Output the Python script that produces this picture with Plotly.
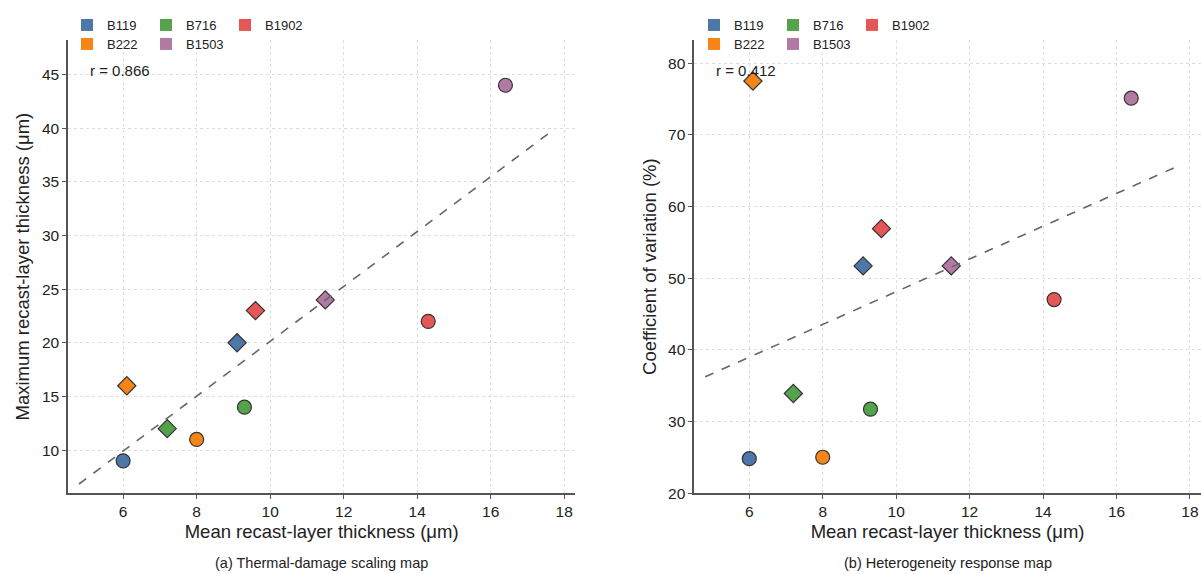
import numpy as np
import plotly.graph_objects as go

# ---------------- data ----------------
groups = ["B119", "B222", "B716", "B1902", "B1503"]
colors = ["#4C78A8", "#F58518", "#54A24B", "#E45756", "#B279A2"]

# circle series (first condition) and diamond series (second condition)
mean_circle = [6.0, 8.0, 9.3, 14.3, 16.4]
max_circle = [9, 11, 14, 22, 44]
cv_circle = [24.8, 25.0, 31.7, 47.0, 75.1]

mean_diamond = [9.1, 6.1, 7.2, 9.6, 11.5]
max_diamond = [20, 16, 12, 23, 24]
cv_diamond = [51.7, 77.5, 33.9, 56.9, 51.7]

x_ticks = [6, 8, 10, 12, 14, 16, 18]
y1_ticks = [10, 15, 20, 25, 30, 35, 40, 45]
y2_ticks = [20, 30, 40, 50, 60, 70, 80]

FONT = "Liberation Sans, Arial, sans-serif"

fig = go.Figure()

def add_panel(xa, ya, yc, yd):
    for g, c, xc, ycv, xd, ydv in zip(groups, colors, mean_circle, yc, mean_diamond, yd):
        fig.add_trace(go.Scatter(
            x=[xc], y=[ycv], mode="markers", xaxis=xa, yaxis=ya, showlegend=False,
            marker=dict(symbol="circle", size=14, color=c, line=dict(color="#333333", width=1.2))))
        fig.add_trace(go.Scatter(
            x=[xd], y=[ydv], mode="markers", xaxis=xa, yaxis=ya, showlegend=False,
            marker=dict(symbol="diamond", size=14, color=c, line=dict(color="#333333", width=1.2))))
    xs = np.array(mean_circle + mean_diamond, dtype=float)
    ys = np.array(list(yc) + list(yd), dtype=float)
    slope, icpt = np.polyfit(xs, ys, 1)
    xl = np.array([xs.min() - 1.2, xs.max() + 1.2])
    fig.add_trace(go.Scatter(
        x=xl, y=slope * xl + icpt, mode="lines", xaxis=xa, yaxis=ya, showlegend=False,
        line=dict(color="#666666", width=1.6, dash="dash")))
    r = np.corrcoef(xs, ys)[0, 1]
    return r

r1 = add_panel("x", "y", max_circle, max_diamond)
r2 = add_panel("x2", "y2", cv_circle, cv_diamond)

# legend entries: two rows per panel (column-major order like the reference)
row1 = [0, 2, 3]   # B119, B716, B1902
row2 = [1, 4]      # B222, B1503
legend_map = [("legend", row1), ("legend2", row2), ("legend3", row1), ("legend4", row2)]
for lg, idxs in legend_map:
    for i in idxs:
        fig.add_trace(go.Scatter(
            x=[None], y=[None], mode="markers", name=groups[i], legend=lg,
            marker=dict(symbol="square", size=12, color=colors[i]),
            xaxis="x", yaxis="y"))

axis_common = dict(
    showline=True, linecolor="#555555", linewidth=1.5,
    ticks="outside", ticklen=4, tickcolor="#555555", tickwidth=1,
    showgrid=True, gridcolor="#dedede", griddash="dot", gridwidth=1,
    zeroline=False, mirror=False, automargin=False,
    tickfont=dict(family=FONT, size=15.5, color="#222222"),
)

def leg(x, y):
    return dict(orientation="h", x=x, y=y, xanchor="left", yanchor="top",
                entrywidth=34, entrywidthmode="pixels", itemwidth=30,
                font=dict(family=FONT, size=13, color="#222222"), bgcolor="rgba(0,0,0,0)",
                tracegroupgap=0, itemsizing="constant")

TITLE_SIZE = 18.5

fig.update_layout(
    width=1201, height=574,
    margin=dict(l=0, r=0, t=0, b=0, autoexpand=False),
    paper_bgcolor="white", plot_bgcolor="white",
    font=dict(family=FONT, color="#222222"),
    xaxis=dict(domain=[0.0566, 0.479], range=[4.5, 18.3], tickvals=x_ticks,
               title=dict(text="Mean recast-layer thickness (μm)", font=dict(size=TITLE_SIZE), standoff=6),
               anchor="y", **axis_common),
    yaxis=dict(domain=[0.141, 0.93], range=[6.0, 48.2], tickvals=y1_ticks,
               title=dict(text="Maximum recast-layer thickness (μm)", font=dict(size=TITLE_SIZE), standoff=7),
               anchor="x", **axis_common),
    xaxis2=dict(domain=[0.578, 1.0], range=[4.5, 18.3], tickvals=x_ticks,
                title=dict(text="Mean recast-layer thickness (μm)", font=dict(size=TITLE_SIZE), standoff=6),
                anchor="y2", **axis_common),
    yaxis2=dict(domain=[0.141, 0.93], range=[20, 83.2], tickvals=y2_ticks,
                title=dict(text="Coefficient of variation (%)", font=dict(size=TITLE_SIZE), standoff=7),
                anchor="x2", **axis_common),
    legend=leg(67 / 1201, 1 - 10 / 574),
    legend2=leg(67 / 1201, 1 - 29 / 574),
    legend3=leg(694 / 1201, 1 - 10 / 574),
    legend4=leg(694 / 1201, 1 - 29 / 574),
)

fig.add_annotation(text=f"r = {r1:.3f}", xref="x domain", yref="y domain", x=0.04, y=0.934,
                   xanchor="left", yanchor="middle", showarrow=False,
                   font=dict(family=FONT, size=15, color="#222222"))
fig.add_annotation(text=f"r = {r2:.3f}", xref="x2 domain", yref="y2 domain", x=0.04, y=0.934,
                   xanchor="left", yanchor="middle", showarrow=False,
                   font=dict(family=FONT, size=15, color="#222222"))

fig.add_annotation(text="(a) Thermal-damage scaling map", xref="paper", yref="paper",
                   x=(0.0566 + 0.479) / 2, y=1 - 563 / 574, xanchor="center", yanchor="middle",
                   showarrow=False, font=dict(family=FONT, size=14.5, color="#222222"))
fig.add_annotation(text="(b) Heterogeneity response map", xref="paper", yref="paper",
                   x=(0.578 + 1.0) / 2, y=1 - 563 / 574, xanchor="center", yanchor="middle",
                   showarrow=False, font=dict(family=FONT, size=14.5, color="#222222"))

fig.write_html("out.html")
